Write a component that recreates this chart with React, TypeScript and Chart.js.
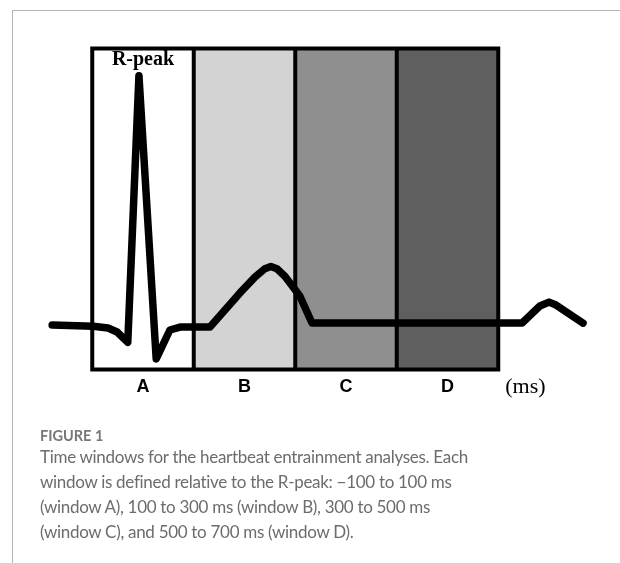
import React, { useEffect, useRef } from "react";
import { Chart, registerables } from "chart.js";

Chart.register(...registerables);

// Window boundaries (ms relative to R-peak) and labels
const WINDOW_EDGES = [-100, 100, 300, 500, 700];
const WINDOW_LABELS = ["A", "B", "C", "D"];
const WINDOW_FILLS = ["#ffffff", "#d3d3d3", "#8f8f8f", "#5f5f5f"];

// Schematic ECG trace (time in ms, amplitude in arbitrary units)
const ECG_TIME_MS = [-179, -98, -69, -51, -30, -8, 26, 53, 73, 132, 191, 221, 240, 252, 264, 280, 309, 333, 747, 782, 800, 814, 867];
const ECG_AMPLITUDE = [0, -0.005, -0.012, -0.028, -0.07, 1.01, -0.137, -0.02, -0.008, -0.008, 0.13, 0.195, 0.228, 0.237, 0.228, 0.197, 0.118, 0.008, 0.008, 0.077, 0.093, 0.081, 0.008];

const PEAK_LABEL = "R-peak";
const UNIT_LABEL = "(ms)";
const FIGURE_TITLE = "FIGURE 1";
const CAPTION_LINES = [
  "Time windows for the heartbeat entrainment analyses. Each",
  "window is defined relative to the R-peak: \u2212100 to 100 ms",
  "(window A), 100 to 300 ms (window B), 300 to 500 ms",
  "(window C), and 500 to 700 ms (window D).",
];

const windowsPlugin = {
  id: "windows",
  beforeDatasetsDraw(chart: any) {
    const { ctx, chartArea, scales } = chart;
    const xs = scales.x;
    const top = chartArea.top;
    const bottom = chartArea.bottom;
    ctx.save();
    for (let i = 0; i < WINDOW_EDGES.length - 1; i++) {
      const x0 = xs.getPixelForValue(WINDOW_EDGES[i]);
      const x1 = xs.getPixelForValue(WINDOW_EDGES[i + 1]);
      ctx.fillStyle = WINDOW_FILLS[i];
      ctx.fillRect(x0, top, x1 - x0, bottom - top);
    }
    ctx.strokeStyle = "#000";
    ctx.lineWidth = 4;
    const xl = xs.getPixelForValue(WINDOW_EDGES[0]);
    const xr = xs.getPixelForValue(WINDOW_EDGES[WINDOW_EDGES.length - 1]);
    ctx.strokeRect(xl, top, xr - xl, bottom - top);
    for (let i = 1; i < WINDOW_EDGES.length - 1; i++) {
      const x = xs.getPixelForValue(WINDOW_EDGES[i]);
      ctx.beginPath();
      ctx.moveTo(x, top);
      ctx.lineTo(x, bottom);
      ctx.stroke();
    }
    ctx.restore();
  },
  afterDraw(chart: any) {
    const { ctx, chartArea, scales } = chart;
    const xs = scales.x;
    ctx.save();
    ctx.fillStyle = "#000";
    ctx.textAlign = "center";
    ctx.textBaseline = "alphabetic";
    ctx.font = "bold 20px 'Liberation Serif', 'Times New Roman', serif";
    ctx.fillText(PEAK_LABEL, xs.getPixelForValue(0), chartArea.top + 16.5);
    ctx.font = "bold 18px 'Liberation Sans', Arial, sans-serif";
    for (let i = 0; i < WINDOW_LABELS.length; i++) {
      const c = (WINDOW_EDGES[i] + WINDOW_EDGES[i + 1]) / 2;
      ctx.fillText(WINDOW_LABELS[i], xs.getPixelForValue(c), chartArea.bottom + 22.5);
    }
    ctx.textAlign = "left";
    ctx.font = "22px 'Liberation Serif', 'Times New Roman', serif";
    ctx.fillText(UNIT_LABEL, xs.getPixelForValue(WINDOW_EDGES[WINDOW_EDGES.length - 1]) + 7, chartArea.bottom + 23.5);
    ctx.restore();
  },
};

export default function App() {
  const ref = useRef<HTMLCanvasElement | null>(null);
  useEffect(() => {
    if (!ref.current) return;
    const chart = new Chart(ref.current, {
      type: "line",
      data: {
        datasets: [
          {
            data: ECG_TIME_MS.map((t, i) => ({ x: t, y: ECG_AMPLITUDE[i] })),
            borderColor: "#000",
            borderWidth: 7.5,
            pointRadius: 0,
            tension: 0,
            borderJoinStyle: "round",
            borderCapStyle: "round",
            fill: false,
            clip: false as any,
          },
        ],
      },
      options: {
        responsive: false,
        animation: false,
        events: [],
        layout: { padding: { left: 41.5, right: 20.25, top: 48.5, bottom: 193.5 } },
        plugins: { legend: { display: false }, tooltip: { enabled: false } },
        scales: {
          x: { type: "linear", min: -200, max: 900, display: false },
          y: { type: "linear", min: -0.18, max: 1.12, display: false },
        },
      },
      plugins: [windowsPlugin],
    });
    return () => chart.destroy();
  }, []);

  return (
    <div style={{ position: "fixed", left: 0, top: 0, width: 620, height: 563, background: "#fff", overflow: "hidden" }}>
      <div style={{ position: "absolute", left: 12, top: 10, width: 620, height: 600, borderTop: "1px solid #b3b3b3", borderLeft: "1px solid #b3b3b3" }} />
      <canvas ref={ref} width={620} height={563} style={{ position: "absolute", left: 0, top: 0, width: 620, height: 563 }} />
      <div style={{ position: "absolute", left: 40, top: 426.6, fontFamily: "Lato, sans-serif", fontSize: 14.5, fontWeight: 700, lineHeight: "18px", color: "#777", whiteSpace: "nowrap" }}>
        {FIGURE_TITLE}
      </div>
      <div style={{ position: "absolute", left: 40, top: 444, fontFamily: "Lato, sans-serif", fontSize: 17, letterSpacing: "-0.3px", lineHeight: "25px", color: "#6c6c6c", whiteSpace: "nowrap" }}>
        {CAPTION_LINES.map((l, i) => (
          <div key={i}>{l}</div>
        ))}
      </div>
    </div>
  );
}
